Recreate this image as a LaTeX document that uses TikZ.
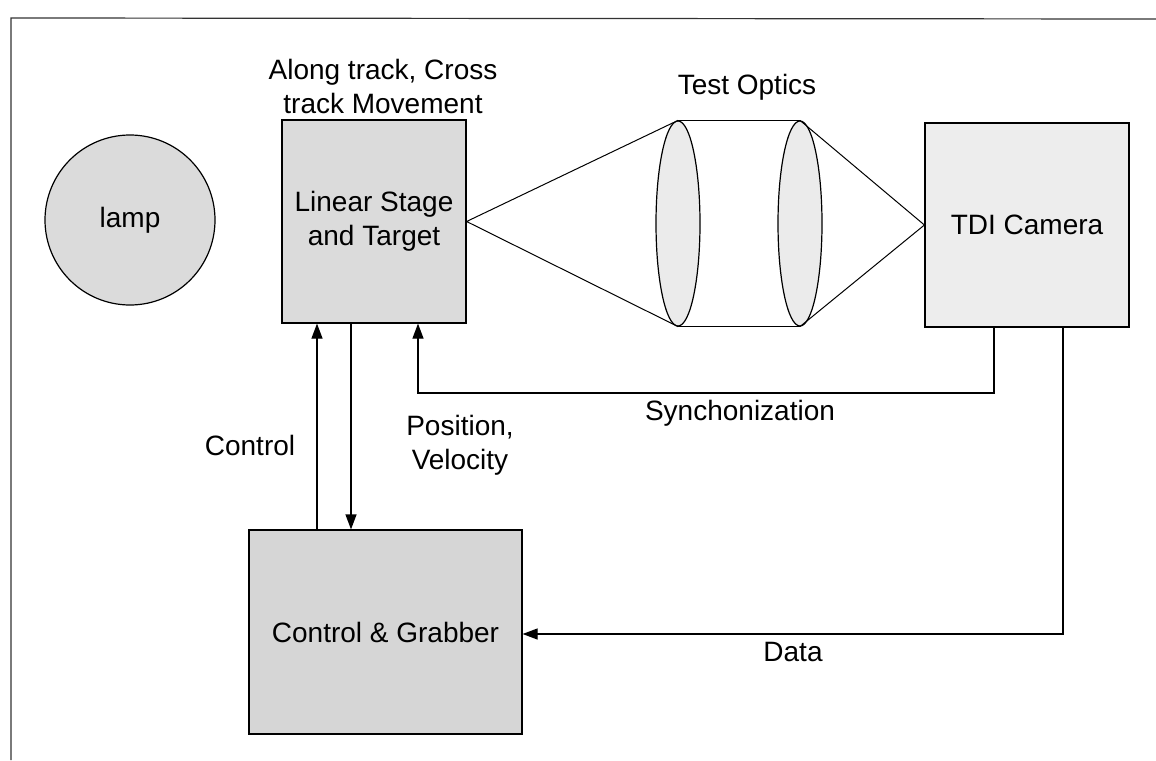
\documentclass[tikz,border=0pt]{standalone}
\usepackage{fontspec}
\setmainfont{Liberation Sans}
\usetikzlibrary{shapes.geometric,arrows.meta}
\begin{document}
\begin{tikzpicture}[x=0.5pt,y=-0.5pt,
  every node/.style={font=\fontsize{14pt}{17pt}\selectfont, inner sep=0pt},
  blockbox/.style={draw=black, line width=0.6pt, fill=gray!28, align=center},
  lightbox/.style={draw=black, line width=0.6pt, fill=gray!14, align=center},
  lensshape/.style={ellipse, draw=black, line width=0.6pt, fill=gray!16, minimum width=22pt, minimum height=102.5pt},
  lbl/.style={align=center},
  ray/.style={draw=black, line width=0.5pt},
  conn/.style={draw=black, line width=0.6pt, -{Triangle[length=7.5pt,width=5.5pt]}},
  plain/.style={draw=black, line width=0.6pt}
]
\useasboundingbox (0,0) rectangle (1156,760);
% frame
\coordinate (fa) at (11,760);
\coordinate (fb) at (11,18);
\coordinate (fc) at (1156,19);
\draw[line width=0.6pt, black!80] (fa) -- (fb) -- (fc);

% nodes
\node[blockbox, circle, minimum size=85pt] (lamp) at (130,220) {lamp};
\node[blockbox, minimum width=92pt, minimum height=101.5pt] (stage) at (374,221.5) {Linear Stage\\and Target};
\node[lensshape] (lensa) at (678,223.5) {};
\node[lensshape] (lensb) at (800,223.5) {};
\node[lightbox, minimum width=102pt, minimum height=102pt] (cam) at (1027,225) {TDI Camera};
\node[blockbox, fill=gray!32, minimum width=136.5pt, minimum height=102pt] (cg) at (385.5,632) {Control \& Grabber};

% labels
\node[lbl] (ltrack) at (383,86) {Along track, Cross\\track Movement};
\node[lbl] (loptics) at (747,87) {Test Optics};
\node[lbl] (lcontrol) at (250,445) {Control};
\node[lbl] (lpos) at (460,445) {Position,\\Velocity};
\node[lbl] (lsync) at (740,413) {Synchonization};
\node[lbl] (ldata) at (793,652) {Data};

% optical rays
\draw[ray] (lensa.north) -- (stage.east) -- (lensa.south);
\draw[ray] (lensa.north) -- (lensb.north);
\draw[ray] (lensa.south) -- (lensb.south);
\draw[ray] (lensb.north) -- (cam.west) -- (lensb.south);

% connectors
\draw[conn] (cg.north -| 317,0) -- (stage.south -| 317,0);
\draw[conn] (stage.south -| 351,0) -- (cg.north -| 351,0);
\coordinate (sa) at (994,393);
\coordinate (sb) at (418,393);
\draw[conn] (cam.south -| sa) -- (sa) -- (sb) -- (stage.south -| sb);
\coordinate (da) at (1063,634);
\draw[conn] (cam.south -| da) -- (da) -- (cg.east |- da);
\end{tikzpicture}
\end{document}
